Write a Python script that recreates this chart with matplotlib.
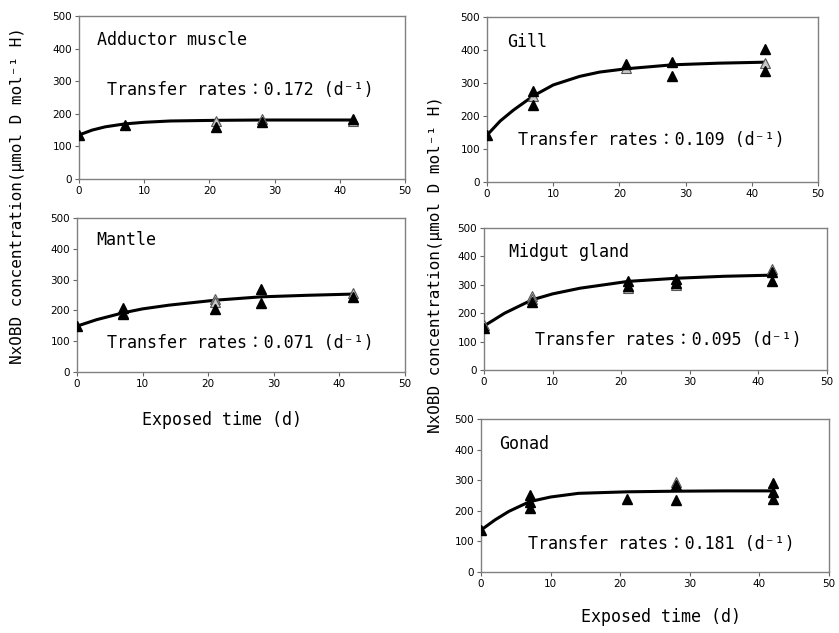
import matplotlib
matplotlib.use("Agg")
import matplotlib.pyplot as plt

# black triangles (x = days, y = concentration)
add_x = [0, 7, 21, 28, 42]
add_y = [135, 166, 160, 176, 183]
add_gx = [21, 28, 42]
add_gy = [178, 183, 177]
add_ct = [0, 2, 4, 7, 10, 14, 21, 28, 35, 42]
add_cv = [135, 150, 160, 169, 174, 178, 180, 181, 181, 181]

man_x = [0, 7, 7, 21, 28, 28, 42]
man_y = [149, 208, 187, 206, 268, 225, 244]
man_gx = [7, 21, 21, 42]
man_gy = [192, 237, 226, 257]
man_ct = [0, 3, 7, 10, 14, 21, 28, 35, 42]
man_cv = [149, 170, 192, 205, 217, 233, 244, 249, 253]

gil_x = [0, 7, 7, 21, 28, 28, 42, 42]
gil_y = [142, 277, 233, 358, 365, 321, 402, 336]
gil_gx = [7, 21, 42]
gil_gy = [260, 345, 362]
gil_ct = [0, 2, 4, 7, 10, 14, 17, 21, 28, 35, 42]
gil_cv = [142, 185, 218, 261, 294, 320, 333, 343, 355, 360, 363]

mid_x = [0, 7, 21, 21, 28, 28, 42, 42]
mid_y = [147, 240, 312, 295, 322, 306, 344, 313]
mid_gx = [0, 7, 7, 21, 28, 42]
mid_gy = [158, 261, 249, 288, 298, 356]
mid_ct = [0, 3, 7, 10, 14, 21, 28, 35, 42]
mid_cv = [155, 200, 247, 268, 288, 312, 323, 330, 334]

gon_x = [0, 7, 7, 7, 21, 28, 28, 42, 42, 42]
gon_y = [137, 251, 230, 208, 237, 285, 235, 291, 262, 240]
gon_gx = [28]
gon_gy = [294]
gon_ct = [0, 2, 4, 7, 10, 14, 21, 28, 35, 42]
gon_cv = [137, 170, 198, 230, 245, 257, 262, 264, 265, 265]

mono = ['DejaVu Sans Mono', 'Noto Sans CJK JP']

fig = plt.figure(figsize=(8.39, 6.33), dpi=100)

panels = [
    # rect, name, rate, name pos, rate pos, data
    ([0.0942, 0.7172, 0.3886, 0.2575], "Adductor muscle", "0.172", (2.8, 426), (4.3, 273),
     add_x, add_y, add_gx, add_gy, add_ct, add_cv),
    ([0.0918, 0.4123, 0.3909, 0.2433], "Mantle", "0.071", (3.0, 429), (4.6, 94),
     man_x, man_y, man_gx, man_gy, man_ct, man_cv),
    ([0.5805, 0.7125, 0.3945, 0.2607], "Gill", "0.109", (3.0, 424), (4.7, 127),
     gil_x, gil_y, gil_gx, gil_gy, gil_ct, gil_cv),
    ([0.5769, 0.4155, 0.4088, 0.2243], "Midgut gland", "0.095", (3.6, 415), (7.4, 106),
     mid_x, mid_y, mid_gx, mid_gy, mid_ct, mid_cv),
    ([0.5733, 0.0964, 0.4148, 0.2417], "Gonad", "0.181", (2.6, 418), (6.8, 92),
     gon_x, gon_y, gon_gx, gon_gy, gon_ct, gon_cv),
]

for rect, name, rate, npos, rpos, bx, by, gx, gy, ct, cv in panels:
    ax = fig.add_axes(rect)
    ax.plot(ct, cv, color='black', lw=2.2, zorder=2)
    ax.plot(gx, gy, ls='none', marker='^', ms=7, mfc='#c8c8c8', mec='#555555', mew=0.8, zorder=3)
    ax.plot(bx, by, ls='none', marker='^', ms=7, color='black', zorder=4)
    ax.set_xlim(0, 50)
    ax.set_ylim(0, 500)
    ax.set_xticks(range(0, 51, 10))
    ax.set_yticks(range(0, 501, 100))
    ax.tick_params(labelsize=7.5, length=3, width=0.8, color='#666666', pad=2)
    for s in ax.spines.values():
        s.set_color('#808080')
        s.set_linewidth(1.0)
    ax.text(npos[0], npos[1], name, family=mono, fontsize=12, va='center', ha='left')
    ax.text(rpos[0], rpos[1], "Transfer rates\uff1a" + rate + " (d\u207b\u00b9)",
            family=mono, fontsize=12, va='center', ha='left')

ylab = "NxOBD concentration(\u03bcmol D mol\u207b\u00b9 H)"
fig.text(18 / 839, 1 - 196 / 633, ylab, family=mono, fontsize=11.5, rotation=90, ha='center', va='center')
fig.text(435 / 839, 1 - 265 / 633, ylab, family=mono, fontsize=11.5, rotation=90, ha='center', va='center')
fig.text(222 / 839, 1 - 420 / 633, "Exposed time (d)", family=mono, fontsize=12, ha='center', va='center')
fig.text(661 / 839, 1 - 617 / 633, "Exposed time (d)", family=mono, fontsize=12, ha='center', va='center')

fig.savefig("out.png", dpi=100)
